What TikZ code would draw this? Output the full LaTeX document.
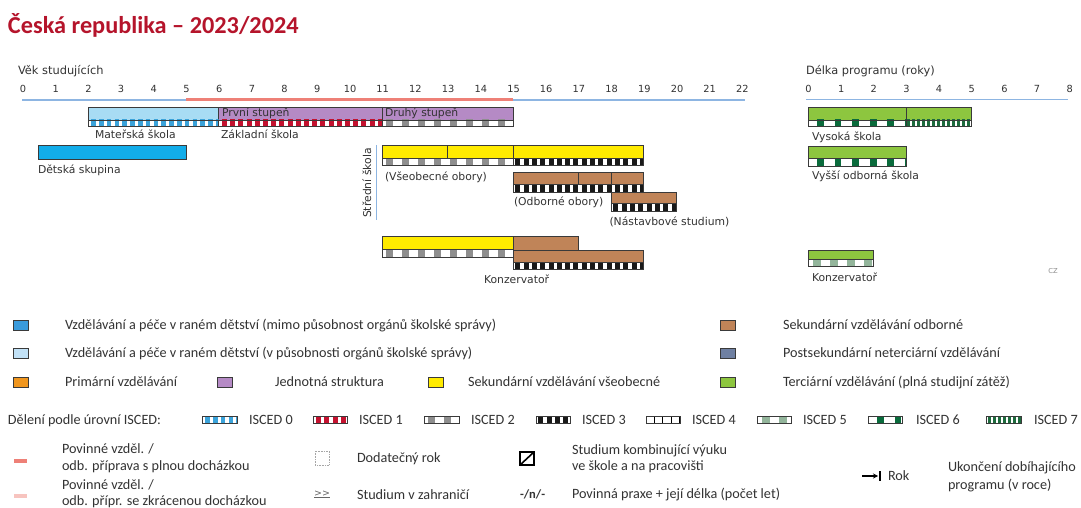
\documentclass[tikz,border=0pt]{standalone}
\usepackage{fontspec}
\setmainfont{Carlito}
\newfontfamily\dvs{DejaVu Sans}
\usetikzlibrary{arrows.meta}
\definecolor{titlered}{HTML}{B5142B}
\definecolor{axblue}{HTML}{8DB5E2}
\definecolor{axred}{HTML}{EE8077}
\definecolor{cPink}{HTML}{F7C4BF}
\definecolor{cLblue}{HTML}{A8DCF4}
\definecolor{cDblue}{HTML}{12ADEA}
\definecolor{cPurple}{HTML}{B58AC5}
\definecolor{cYellow}{HTML}{FFEB00}
\definecolor{cBrown}{HTML}{C08458}
\definecolor{cGreen}{HTML}{8DC63F}
\definecolor{cOrange}{HTML}{F0961E}
\definecolor{cSlate}{HTML}{6F80A2}
\definecolor{cLegA}{HTML}{3A9BDC}
\definecolor{cLegB}{HTML}{C2E2F7}
\definecolor{cI0}{HTML}{3BA3DA}
\definecolor{cI1}{HTML}{C4122F}
\definecolor{cI2}{HTML}{8E8E8E}
\definecolor{cI5}{HTML}{93B59B}
\definecolor{cI6}{HTML}{0A6B3C}
\definecolor{cI7}{HTML}{1E6B3E}
\definecolor{edge}{HTML}{3A3A3A}
\definecolor{txt}{HTML}{333333}
\newcommand\A[1]{22.5+32.7*#1}
\newcommand\R[1]{808+32.65*#1}
\newcommand\fillbar[5]{\filldraw[box, fill=#5] (#1,#3) rectangle (#2,#4);}
\newcommand\isc[5]{%
  \fill[white] (#1,#3) rectangle (#2,#4);
  \begin{scope}\clip (#1,#3) rectangle (#2,#4);
  \draw[#5] (#1,{(#3+#4)/2}) -- (#2,{(#3+#4)/2});\end{scope}
  \draw[box] (#1,#3) rectangle (#2,#4);}
\newcommand\sw[3]{\filldraw[box, fill=#3] (#1,#2-5) rectangle (#1+15,#2+5);}
\tikzset{
  every node/.style={inner sep=0pt, outer sep=0pt},
  lab/.style={font=\dvs\fontsize{10.8}{12}\selectfont, text=txt, anchor=base west},
  num/.style={font=\dvs\fontsize{9.8}{11}\selectfont, text=txt, anchor=base},
  leg/.style={font=\fontsize{14.2}{16}\selectfont, text=txt, anchor=base west},
  box/.style={draw=edge, line width=0.75pt},
  i0/.style={line width=8pt, draw=cI0, dash pattern=on 4.6pt off 3.2pt, dash phase=4.6pt},
  i1/.style={line width=8pt, draw=cI1, dash pattern=on 5pt off 3.2pt, dash phase=5pt},
  i2/.style={line width=8pt, draw=cI2, dash pattern=on 7pt off 9pt, dash phase=12pt},
  i3/.style={line width=8pt, draw=black!90, dash pattern=on 5pt off 3.3pt, dash phase=6pt},
  i4/.style={line width=8pt, draw=black, dash pattern=on 1pt off 7.5pt, dash phase=1pt},
  i5/.style={line width=8pt, draw=cI5, dash pattern=on 8pt off 9pt, dash phase=12pt},
  i6/.style={line width=8pt, draw=cI6, dash pattern=on 6.7pt off 10.9pt, dash phase=8.6pt},
  i7/.style={line width=8pt, draw=cI7, dash pattern=on 3pt off 2pt, dash phase=3.5pt},
}
\begin{document}
\begin{tikzpicture}[x=1pt, y=-1pt]
\useasboundingbox[fill=white] (0,0) rectangle (1081,508);
% title
\node[anchor=base west, font=\bfseries\fontsize{24.3}{28}\selectfont, text=titlered] (title) at (8,33.5) {Česká republika – 2023/2024};
% age axis
\node[lab, font=\dvs\fontsize{11.4}{13}\selectfont] (vek) at (18,74.5) {Věk studujících};
\foreach \i in {0,...,22} \node[num] (n\i) at (\A{\i}+0.5,93) {\i};
\draw[axblue, line width=1.4pt] (22,100) -- (745,100);
\draw[axred, line width=3.6pt] (\A{5},99.5) -- (\A{15},99.5);
% programme length axis
\node[lab, font=\dvs\fontsize{11.4}{13}\selectfont] (delka) at (806,75) {Délka programu (roky)};
\foreach \i in {0,...,8} \node[num] (m\i) at (\R{\i}+0.5,93) {\i};
\draw[axblue, line width=1.4pt] (806,99.5) -- (1068,99.5);
% row 1: MS + ZS
\fillbar{\A{2}}{\A{6}}{107}{120}{cLblue}
\fillbar{\A{6}}{\A{15}}{107}{120}{cPurple}
\draw[box] (\A{11},107) -- (\A{11},120);
\isc{\A{2}}{\A{6}}{120}{126.5}{i0}
\isc{\A{6}}{\A{11}}{120}{126.5}{i1}
\isc{\A{11}}{\A{15}}{120}{126.5}{i2}
\node[lab] (p1) at (222,117) {První stupeň};
\node[lab] (p2) at (385,117) {Druhý stupeň};
\node[lab] (ms) at (95,139) {Mateřská škola};
\node[lab] (zs) at (221,139) {Základní škola};
% detska skupina
\fillbar{\A{0.5}}{\A{5}}{145}{159}{cDblue}
\node[lab] (ds) at (38,173.5) {Dětská skupina};
% stredni skola
\draw[axblue, line width=1.4pt] (376.5,145) -- (376.5,220);
\node[font=\dvs\fontsize{10.8}{12}\selectfont, text=txt, rotate=90] (ss) at (367,183) {Střední škola};
\fillbar{\A{11}}{\A{19}}{145}{158}{cYellow}
\draw[box] (\A{13},145) -- (\A{13},158) (\A{15},145) -- (\A{15},158);
\isc{\A{11}}{\A{15}}{158}{165}{i2}
\isc{\A{15}}{\A{19}}{158}{165}{i3}
\node[lab] (vs) at (385,180.5) {(Všeobecné obory)};
\fillbar{\A{15}}{\A{19}}{172.5}{184.5}{cBrown}
\draw[box] (\A{17},172.5) -- (\A{17},184.5) (\A{18},172.5) -- (\A{18},184.5);
\isc{\A{15}}{\A{19}}{184.5}{192}{i3}
\node[lab] (od) at (514,205.5) {(Odborné obory)};
\fillbar{\A{18}}{\A{20}}{192}{203.5}{cBrown}
\isc{\A{18}}{\A{20}}{203.5}{211}{i3}
\node[lab] (ns) at (609.5,225) {(Nástavbové studium)};
% konzervator
\fillbar{\A{11}}{\A{15}}{236.7}{249.5}{cYellow}
\isc{\A{11}}{\A{15}}{249.5}{257}{i2}
\fillbar{\A{15}}{\A{17}}{236.7}{250}{cBrown}
\fillbar{\A{15}}{\A{19}}{250}{262}{cBrown}
\isc{\A{15}}{\A{19}}{262}{269.5}{i3}
\node[lab] (kz) at (484,283) {Konzervatoř};
% tertiary
\fillbar{\R{0}}{\R{5}}{107.3}{120}{cGreen}
\draw[box] (\R{3},107.3) -- (\R{3},120);
\isc{\R{0}}{\R{3}}{120}{126.5}{i6}
\isc{\R{3}}{\R{5}}{120}{126.5}{i7}
\node[lab] (vys) at (812,140.5) {Vysoká škola};
\fillbar{\R{0}}{\R{3}}{146}{158.5}{cGreen}
\isc{\R{0}}{\R{3}}{158.5}{166.5}{i6}
\node[lab] (vos) at (812,179.5) {Vyšší odborná škola};
\fillbar{\R{0}}{\R{2}}{250}{259.5}{cGreen}
\isc{\R{0}}{\R{2}}{259.5}{266}{i5}
\node[lab] (kz2) at (812,281.5) {Konzervatoř};
\node[font=\dvs\fontsize{6.8}{8}\selectfont, text=black!45] (cz) at (1053,271) {CZ};
% legend: colours
\sw{13}{325}{cLegA}
\node[leg] (la) at (65,329) {Vzdělávání a péče v raném dětství (mimo působnost orgánů školské správy)};
\sw{13}{353}{cLegB}
\node[leg] (lb) at (65,357) {Vzdělávání a péče v raném dětství (v působnosti orgánů školské správy)};
\sw{13}{382}{cOrange}
\node[leg] (lc) at (65,386) {Primární vzdělávání};
\sw{217}{382}{cPurple}
\node[leg] (ld) at (275,386) {Jednotná struktura};
\sw{428}{382}{cYellow}
\node[leg] (le) at (468,386) {Sekundární vzdělávání všeobecné};
\sw{720}{325}{cBrown}
\node[leg] (lf) at (783,329) {Sekundární vzdělávání odborné};
\sw{720}{353}{cSlate}
\node[leg] (lg) at (783,357) {Postsekundární neterciární vzdělávání};
\sw{720}{382}{cGreen}
\node[leg] (lh) at (783,386) {Terciární vzdělávání (plná studijní zátěž)};
% legend: ISCED
\node[leg] (isc) at (8,424.5) {Dělení podle úrovní ISCED:};
\isc{202}{237}{416.5}{423.5}{i0}
\node[leg] (k0) at (249,424.5) {ISCED 0};
\isc{313}{347}{416.5}{423.5}{i1}
\node[leg] (k1) at (359,424.5) {ISCED 1};
\isc{424}{459}{416.5}{423.5}{i2}
\node[leg] (k2) at (471,424.5) {ISCED 2};
\isc{536}{570}{416.5}{423.5}{i3}
\node[leg] (k3) at (582,424.5) {ISCED 3};
\isc{646}{680}{416.5}{423.5}{i4}
\node[leg] (k4) at (692,424.5) {ISCED 4};
\isc{757}{791}{416.5}{423.5}{i5}
\node[leg] (k5) at (803,424.5) {ISCED 5};
\isc{868}{902}{416.5}{423.5}{i6}
\node[leg] (k6) at (916,424.5) {ISCED 6};
\isc{986}{1021}{416.5}{423.5}{i7}
\node[leg] (k7) at (1034,424.5) {ISCED 7};
% legend: symbols
\fill[axred] (14,458.5) rectangle (27,462.5);
\node[leg] (pa1) at (62,453.5) {Povinné vzděl. /};
\node[leg] (pa2) at (62,470) {odb. příprava s plnou docházkou};
\fill[cPink] (14,493.5) rectangle (27,497.5);
\node[leg] (pb1) at (62,489.5) {Povinné vzděl. /};
\node[leg] (pb2) at (62,505) {odb. přípr. se zkrácenou docházkou};
\draw[black!35, densely dotted, line width=0.6pt] (315,451) rectangle (329,465);
\node[leg] (dr) at (357,462.5) {Dodatečný rok};
\node[font=\dvs\fontsize{9.5}{11}\selectfont, text=black!60] (zz) at (322,494.5) {\underline{{>}{>}}};
\node[leg] (sz) at (357,499.5) {Studium v zahraničí};
\draw[line width=1.2pt] (520,452) rectangle (534,465);
\draw[line width=1.6pt] (520,465) -- (534,452);
\node[leg] (sk1) at (572,454) {Studium kombinující výuku};
\node[leg] (sk2) at (572,470.5) {ve škole a na pracovišti};
\node[leg, font=\bfseries\fontsize{12.5}{14}\selectfont] (pp) at (520,498.5) {-/n/-};
\node[leg] (ppt) at (572,498.5) {Povinná praxe + její délka (počet let)};
\draw[-{Stealth[length=5pt,width=5pt]}, line width=1.4pt] (862,476) -- (878,476);
\draw[line width=1.6pt] (880,471) -- (880,481);
\node[leg] (rok) at (888,480.5) {Rok};
\node[leg] (uk1) at (948,471.5) {Ukončení dobíhajícího};
\node[leg] (uk2) at (948,489.5) {programu (v roce)};
\end{tikzpicture}
\end{document}
